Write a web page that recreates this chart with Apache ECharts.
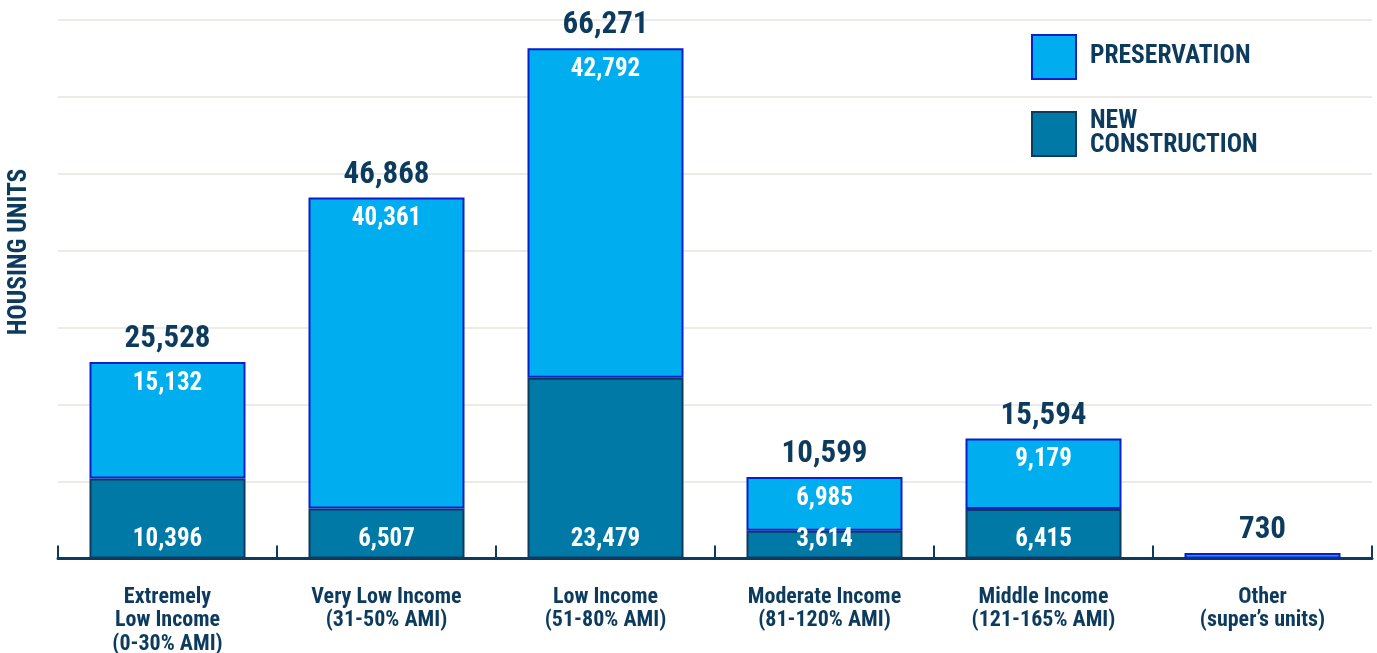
<!DOCTYPE html>
<html>
<head>
<meta charset="utf-8">
<script src="https://cdn.jsdelivr.net/npm/echarts@6/dist/echarts.min.js"></script>
<style>
html,body{margin:0;padding:0;background:#fff;}
#chart{width:1377px;height:653px;}
</style>
</head>
<body>
<div id="chart"></div>
<script>
const categories = ['Extremely\nLow Income\n(0-30% AMI)', 'Very Low Income\n(31-50% AMI)', 'Low Income\n(51-80% AMI)', 'Moderate Income\n(81-120% AMI)', 'Middle Income\n(121-165% AMI)', 'Other\n(super\u2019s units)'];
const newConstruction = [10396, 6507, 23479, 3614, 6415, null];
const preservation = [15132, 40361, 42792, 6985, 9179, 730];
const totals = [25528, 46868, 66271, 10599, 15594, 730];

const FONT = "'Roboto Condensed', 'Liberation Sans Narrow', 'DejaVu Sans Condensed', Roboto, sans-serif";
const NAVY = '#0D3B5E';
const fmt = v => v.toLocaleString('en-US');

const chart = echarts.init(document.getElementById('chart'));
chart.setOption({
  animation: false,
  grid: { left: 58, right: 5, top: 19.5, bottom: 94.5, outerBoundsMode: 'none', containLabel: false },
  legend: {
    orient: 'vertical', left: 1031, top: 34, padding: 0,
    itemWidth: 44, itemHeight: 44, itemGap: 29,
    icon: 'rect',
    data: [
      { name: 'PRESERVATION', itemStyle: { color: '#00AEEF', borderColor: '#0A1ECC', borderWidth: 2 } },
      { name: 'NEW CONSTRUCTION', itemStyle: { color: '#0079A6', borderColor: NAVY, borderWidth: 2 } }
    ],
    formatter: n => n === 'NEW CONSTRUCTION' ? 'NEW\nCONSTRUCTION' : n,
    textStyle: { fontFamily: FONT, fontWeight: 'bold', fontSize: 25.5, lineHeight: 24, color: NAVY, padding: [0, 0, 0, 9] },
    selectedMode: false
  },
  graphic: [{
    type: 'text', x: 20, y: 252, rotation: Math.PI / 2,
    style: { text: 'HOUSING UNITS', font: "bold 25.5px " + FONT, fill: NAVY, align: 'center', verticalAlign: 'middle' }
  }],
  xAxis: {
    type: 'category', data: categories,
    axisLine: { lineStyle: { color: NAVY, width: 3 } },
    axisTick: { show: true, inside: true, length: 13, lineStyle: { color: NAVY, width: 2 } },
    axisLabel: { fontFamily: FONT, fontWeight: 'bold', fontSize: 22, lineHeight: 23.5, color: NAVY, margin: 27, interval: 0 }
  },
  yAxis: {
    type: 'value', min: 0, max: 70000, interval: 10000,
    axisLabel: { show: false }, axisLine: { show: false }, axisTick: { show: false },
    splitLine: { lineStyle: { color: '#EEEAE6', width: 2 } }
  },
  series: [
    {
      name: 'NEW CONSTRUCTION', type: 'bar', stack: 'a', barWidth: 156,
      data: newConstruction,
      itemStyle: { color: '#0079A6', borderColor: NAVY, borderWidth: 2 },
      label: { show: true, position: 'insideBottom', distance: 6, formatter: p => p.value == null ? '' : fmt(p.value),
        fontFamily: FONT, fontWeight: 'bold', fontSize: 25, color: '#fff' }
    },
    {
      name: 'PRESERVATION', type: 'bar', stack: 'a', barWidth: 156,
      data: preservation,
      itemStyle: { color: '#00AEEF', borderColor: '#0A1ECC', borderWidth: 2 },
      label: { show: true, position: 'insideTop', distance: 9, formatter: p => p.dataIndex === 5 ? '' : fmt(p.value),
        fontFamily: FONT, fontWeight: 'bold', fontSize: 25, color: '#fff' }
    },
    {
      name: 'total', type: 'scatter', data: totals, symbolSize: 1,
      itemStyle: { color: 'transparent', opacity: 1 },
      label: { show: true, position: 'top', distance: 7, formatter: p => fmt(p.value),
        fontFamily: FONT, fontWeight: 'bold', fontSize: 31, lineHeight: 30, color: NAVY }
    }
  ]
});
</script>
</body>
</html>
